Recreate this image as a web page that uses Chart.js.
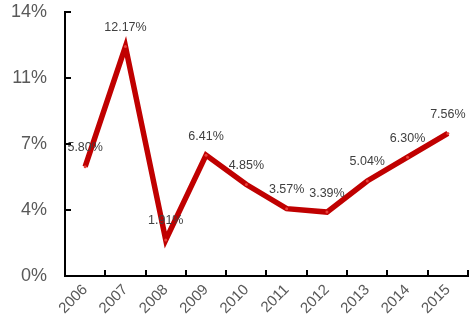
<!DOCTYPE html>
<html>
<head>
<meta charset="utf-8">
<script src="https://cdn.jsdelivr.net/npm/chart.js@4"></script>
<style>
  html, body { margin: 0; padding: 0; background: #fff; }
  #wrap { width: 473px; height: 323px; }
</style>
</head>
<body>
<div id="wrap"><canvas id="rateChart"></canvas></div>
<script>
    // 연도별 비율
    const years = ['2006', '2007', '2008', '2009', '2010', '2011', '2012', '2013', '2014', '2015'];
    const rates = [5.80, 12.17, 1.91, 6.41, 4.85, 3.57, 3.39, 5.04, 6.30, 7.56];
    const yMax = 14;
    const yStep = 3.5;

    // 축 안쪽으로 짧은 눈금 그리기
    const innerTicks = {
        id: 'innerTicks',
        afterDraw(chart) {
            const c = chart.ctx;
            const x = chart.scales.x;
            const y = chart.scales.y;
            c.save();
            c.strokeStyle = '#000';
            c.lineWidth = 2;
            c.beginPath();
            y.ticks.forEach(t => {
                const py = Math.round(y.getPixelForValue(t.value));
                c.moveTo(x.left, py);
                c.lineTo(x.left + 6, py);
            });
            const half = (x.getPixelForTick(1) - x.getPixelForTick(0)) / 2;
            for (let i = 0; i <= years.length; i++) {
                const px = Math.round(x.getPixelForTick(0) - half + i * half * 2);
                c.moveTo(px, y.bottom);
                c.lineTo(px, y.bottom - 6);
            }
            c.stroke();
            c.restore();
        }
    };

    // 점 위에 값 표시
    const valueLabels = {
        id: 'valueLabels',
        afterDatasetsDraw(chart) {
            const c = chart.ctx;
            const meta = chart.getDatasetMeta(0);
            c.save();
            c.font = '12.5px "Liberation Sans", Arial, sans-serif';
            c.fillStyle = '#404040';
            c.textAlign = 'center';
            c.textBaseline = 'middle';
            meta.data.forEach((pt, i) => {
                c.fillText(rates[i].toFixed(2) + '%', pt.x, pt.y - 19);
            });
            c.restore();
        }
    };

    const ctx = document.getElementById('rateChart').getContext('2d');
    new Chart(ctx, {
        type: 'line',
        data: {
            labels: years,
            datasets: [{
                data: rates,
                borderColor: '#C00000',
                borderWidth: 5.5,
                tension: 0,
                pointRadius: 1.5,
                pointBackgroundColor: '#e8403a',
                pointBorderWidth: 0
            }]
        },
        options: {
            responsive: true,
            maintainAspectRatio: false,
            animation: false,
            layout: { padding: { top: 12, right: 5, left: 0, bottom: 0 } },
            plugins: {
                legend: { display: false },
                tooltip: { enabled: false }
            },
            scales: {
                x: {
                    offset: true,
                    grid: { display: false, drawTicks: false },
                    border: { color: '#000', width: 2 },
                    ticks: {
                        color: '#595959',
                        font: { size: 15, family: '"Liberation Sans", Arial, sans-serif' },
                        maxRotation: 45,
                        minRotation: 45,
                        padding: 5
                    },
                    afterFit(scale) {
                        scale.height = 47;
                        scale.paddingLeft = 0;
                        scale.paddingRight = 0;
                    }
                },
                y: {
                    min: 0,
                    max: yMax,
                    grid: { display: false, drawTicks: false },
                    border: { color: '#000', width: 2 },
                    ticks: {
                        stepSize: yStep,
                        color: '#595959',
                        font: { size: 18, family: '"Liberation Sans", Arial, sans-serif' },
                        padding: 18,
                        callback: v => Math.round(v) + '%'
                    },
                    afterFit(scale) {
                        scale.width = 65;
                        scale.paddingTop = 0;
                        scale.paddingBottom = 0;
                    }
                }
            }
        },
        plugins: [innerTicks, valueLabels]
    });
</script>
</body>
</html>
